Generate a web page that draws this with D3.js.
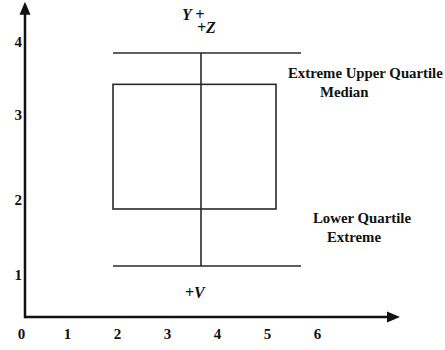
<!DOCTYPE html>
<html>
<head>
<meta charset="utf-8">
<script src="https://cdn.jsdelivr.net/npm/d3@7"></script>
<style>
  body { margin: 0; background: #fff; }
  svg text { font-family: 'Liberation Serif', 'Times New Roman', Times, 'DejaVu Serif', serif; fill: #111; }
</style>
</head>
<body>
<svg id="chart" width="445" height="350"></svg>
<script>
'use strict';

// tick labels
const xTicks = [0, 1, 2, 3, 4, 5, 6];
const yTicks = [1, 2, 3, 4];

// box values
const whiskerLow = 1.12;
const lowerQuartile = 1.88;
const upperQuartile = 3.42;
const whiskerHigh = 3.85;
const boxLeft = 1.92;
const boxRight = 5.18;
const whiskerRight = 5.68;
const medianX = 3.68;

// axis extents (data units)
const axisFrom = { x: 0.16, y: 0.44 };
const axisTo = { x: 7.66, y: 4.55 };

const labels = [
  { text: 'Extreme Upper Quartile', x: 5.42, y: 3.51, cls: 'note' },
  { text: 'Median', x: 6.06, y: 3.25, cls: 'note' },
  { text: 'Lower Quartile', x: 5.92, y: 1.7, cls: 'note' },
  { text: 'Extreme', x: 6.2, y: 1.44, cls: 'note' },
  { text: 'Y +', x: 3.3, y: 4.3, cls: 'dir' },
  { text: '+Z', x: 3.6, y: 4.12, cls: 'dir' },
  { text: '+V', x: 3.36, y: 0.7, cls: 'dir' }
];

const svg = d3.select('#chart');

const x = d3.scaleLinear().domain([0, 7]).range([17, 367]);
const y = d3.scaleLinear().domain([1, 2, 3, 4]).range([275, 200, 115, 42]);

// axes lines
const axisColor = '#111';
svg.append('line')
  .attr('x1', x(axisFrom.x)).attr('y1', y(axisFrom.y))
  .attr('x2', x(axisTo.x) - 8).attr('y2', y(axisFrom.y))
  .attr('stroke', axisColor).attr('stroke-width', 2.5);
svg.append('line')
  .attr('x1', x(axisFrom.x)).attr('y1', y(axisFrom.y) + 1.2)
  .attr('x2', x(axisFrom.x)).attr('y2', y(axisTo.y) + 8)
  .attr('stroke', axisColor).attr('stroke-width', 2.5);

// arrow heads
const ax = x(axisTo.x), ay = y(axisFrom.y);
svg.append('path')
  .attr('d', `M${ax},${ay} L${ax - 13},${ay - 5.5} L${ax - 13},${ay + 5.5} Z`)
  .attr('fill', axisColor);
const bx = x(axisFrom.x), by = y(axisTo.y);
svg.append('path')
  .attr('d', `M${bx},${by} L${bx - 5.5},${by + 13} L${bx + 5.5},${by + 13} Z`)
  .attr('fill', axisColor);

// tick labels via d3 axes
const xAxis = svg.append('g')
  .attr('transform', `translate(0,${y(axisFrom.y) + 11})`)
  .call(d3.axisBottom(x).tickValues(xTicks).tickSize(0).tickPadding(0).tickFormat(d3.format('d')));
xAxis.attr('font-family', null).attr('font-size', null);
xAxis.select('.domain').remove();
xAxis.selectAll('text')
  .attr('dy', '0.71em')
  .attr('dx', d => d === 0 ? 4 : 0);

const yAxis = svg.append('g')
  .attr('transform', `translate(${x(axisFrom.x) - 3},0)`)
  .call(d3.axisLeft(y).tickValues(yTicks).tickSize(0).tickPadding(0).tickFormat(d3.format('d')));
yAxis.attr('font-family', null).attr('font-size', null);
yAxis.select('.domain').remove();

svg.selectAll('.tick text')
  .style('font-size', '15px')
  .style('font-weight', 'bold');

// box plot
const boxColor = '#2a2a2a';
const g = svg.append('g').attr('stroke', boxColor).attr('stroke-width', 1.6).attr('fill', 'none');

g.selectAll('line.whisker')
  .data([whiskerHigh, whiskerLow])
  .enter()
  .append('line')
  .attr('class', 'whisker')
  .attr('x1', x(boxLeft)).attr('x2', x(whiskerRight))
  .attr('y1', d => y(d)).attr('y2', d => y(d));

g.append('rect')
  .attr('x', x(boxLeft))
  .attr('y', y(upperQuartile))
  .attr('width', x(boxRight) - x(boxLeft))
  .attr('height', y(lowerQuartile) - y(upperQuartile));

g.append('line')
  .attr('x1', x(medianX)).attr('x2', x(medianX))
  .attr('y1', y(whiskerHigh)).attr('y2', y(whiskerLow));

// annotations
svg.selectAll('text.label')
  .data(labels)
  .enter()
  .append('text')
  .attr('class', 'label')
  .attr('x', d => x(d.x))
  .attr('y', d => y(d.y))
  .style('font-size', d => d.cls === 'note' ? '14.8px' : '16px')
  .style('font-weight', 'bold')
  .style('font-style', d => d.cls === 'dir' ? 'italic' : 'normal')
  .text(d => d.text);
</script>
</body>
</html>
